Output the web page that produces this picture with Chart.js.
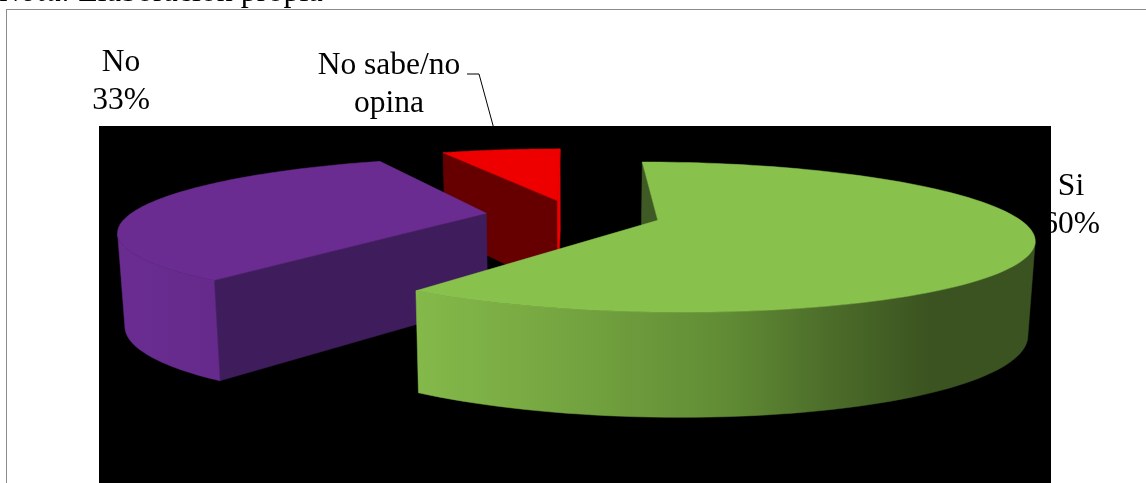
<!DOCTYPE html>
<html lang="es">

<head>
    <meta charset="UTF-8">
    <title>Nota. Elaboración propia</title>
    <script src="https://cdn.jsdelivr.net/npm/chart.js@4.4.0/dist/chart.umd.min.js"></script>
    <style>
        html, body { margin: 0; background: #fff; overflow: hidden; }
        #wrap { position: relative; width: 1146px; height: 483px; overflow: hidden; }
        canvas { position: absolute; left: 0; top: 0; }
        #note {
            position: absolute; left: 0; top: -28px; z-index: 2; white-space: nowrap;
            font: 32px/36px "Liberation Serif", serif; color: #000;
        }
    </style>
</head>

<body>
    <div id="wrap">
        <div id="note"><i>Nota.</i> Elaboración propia</div>
        <canvas id="pieChart" width="1146" height="483"></canvas>
    </div>

    <script>
        // values
        const categories = ['Si', 'No', 'No sabe/no opina'];
        const percents = [60, 33.3, 6.7];
        const offsets = [47, 47, 42];

        // colours of the 3d faces
        const topColors = ['#88c14c', '#6a2c91', '#ee0000'];
        const startFaceColors = ['#3f5a24', '#3f1d5c', '#660000'];
        const endFaceColors = ['#3f5a24', '#3f1d5c', '#ee0000'];
        const wallStops = [
            [[0, '#84b94a'], [0.25, '#74a440'], [0.5, '#618c35'], [0.66, '#4d6e2a'], [0.83, '#3b5320'], [1, '#3b5320']],
            [[0, '#6a2c91'], [1, '#652a8c']],
            [[0, '#ee0000'], [1, '#ee0000']]
        ];

        // how the flat pie is tipped over
        const view = { width: 357, depth: 69, wall: 91, perspective: 0.22, wallShrink: 0.016 };

        // text placed by hand, like the datalabels in the original
        const textLabels = [
            { lines: ['Si', '60%'], x: 1071, y: 195 },
            { lines: ['No', '33%'], x: 121, y: 71 },
            { lines: ['No sabe/no', 'opina'], x: 389, y: 74 }
        ];
        const leader = [[467, 74], [479, 74], [497, 140]];
        const plotBox = { left: 99, top: 126, right: 1051, bottom: 483 };

        function project(arc, u, v, h) {
            const s = 1 / (1 - view.perspective * v);
            const shrink = 1 - view.wallShrink * h;
            return {
                x: arc.x + u * view.width * s * shrink,
                y: arc.y + v * view.depth * s + h * view.wall * (0.5 + 0.5 * s)
            };
        }

        function fillPoly(ctx, pts, color) {
            ctx.beginPath();
            pts.forEach((p, i) => i ? ctx.lineTo(p.x, p.y) : ctx.moveTo(p.x, p.y));
            ctx.closePath();
            ctx.fillStyle = color;
            ctx.fill();
            ctx.strokeStyle = color;
            ctx.lineWidth = 0.5;
            ctx.stroke();
        }

        function isFacing(a, b, c) {
            return (b.x - a.x) * (c.y - a.y) - (b.y - a.y) * (c.x - a.x) < 0;
        }

        function drawSlice(ctx, arc, i) {
            const mid = (arc.startAngle + arc.endAngle) / 2;
            const ox = Math.cos(mid) * offsets[i] / arc.outerRadius;
            const oy = Math.sin(mid) * offsets[i] / arc.outerRadius;
            const at = (angle, h) => project(arc, ox + Math.cos(angle), oy + Math.sin(angle), h);
            const apex = h => project(arc, ox, oy, h);

            const steps = 120;
            const angles = [];
            for (let k = 0; k <= steps; k++) {
                angles.push(arc.startAngle + (arc.endAngle - arc.startAngle) * k / steps);
            }

            // the two cut faces
            const first = at(arc.startAngle, 0);
            const last = at(arc.endAngle, 0);
            if (isFacing(apex(0), first, apex(1))) {
                fillPoly(ctx, [apex(0), first, at(arc.startAngle, 1), apex(1)], startFaceColors[i]);
            }
            if (isFacing(last, apex(0), at(arc.endAngle, 1))) {
                fillPoly(ctx, [last, apex(0), apex(1), at(arc.endAngle, 1)], endFaceColors[i]);
            }

            // outer wall, only the part turned to the viewer
            const upper = [];
            const lower = [];
            for (let k = 0; k < steps; k++) {
                if (isFacing(at(angles[k], 0), at(angles[k + 1], 0), at(angles[k], 1))) {
                    if (!upper.length) {
                        upper.push(at(angles[k], 0));
                        lower.push(at(angles[k], 1));
                    }
                    upper.push(at(angles[k + 1], 0));
                    lower.push(at(angles[k + 1], 1));
                }
            }
            if (upper.length) {
                const xs = upper.map(p => p.x);
                const grad = ctx.createLinearGradient(Math.min(...xs), 0, Math.max(...xs), 0);
                wallStops[i].forEach(s => grad.addColorStop(s[0], s[1]));
                fillPoly(ctx, upper.concat(lower.reverse()), grad);
            }

            // top
            fillPoly(ctx, [apex(0)].concat(angles.map(a => at(a, 0))), arc.options.backgroundColor);
        }

        const pie3d = {
            id: 'pie3d',
            beforeDatasetsDraw(chart) {
                const ctx = chart.ctx;
                ctx.save();

                // frame runs off the page on the right and bottom
                ctx.strokeStyle = '#8c8c8c';
                ctx.lineWidth = 1;
                ctx.strokeRect(6.5, 9.5, 1300, 600);

                // labels go under the black box, it hides part of the 60%
                ctx.fillStyle = '#000';
                ctx.font = '31.5px "Liberation Serif", serif';
                ctx.textAlign = 'center';
                textLabels.forEach(l => {
                    l.lines.forEach((line, n) => ctx.fillText(line, l.x, l.y + n * 37.5));
                });
                ctx.strokeStyle = '#000';
                ctx.beginPath();
                leader.forEach((p, n) => n ? ctx.lineTo(p[0], p[1]) : ctx.moveTo(p[0], p[1]));
                ctx.stroke();

                ctx.fillStyle = '#000';
                ctx.fillRect(plotBox.left, plotBox.top, plotBox.right - plotBox.left, plotBox.bottom - plotBox.top);

                // far slices first
                const arcs = chart.getDatasetMeta(0).data;
                for (let i = arcs.length - 1; i >= 0; i--) drawSlice(ctx, arcs[i], i);

                ctx.restore();
                return false;
            }
        };

        new Chart(document.getElementById('pieChart'), {
            type: 'pie',
            data: {
                labels: categories,
                datasets: [{
                    data: percents,
                    backgroundColor: topColors,
                    borderWidth: 0,
                    offset: offsets
                }]
            },
            options: {
                responsive: false,
                animation: false,
                rotation: 0,
                layout: { padding: { bottom: 53 } },
                plugins: { legend: { display: false }, tooltip: { enabled: false } }
            },
            plugins: [pie3d]
        });
    </script>
</body>

</html>
